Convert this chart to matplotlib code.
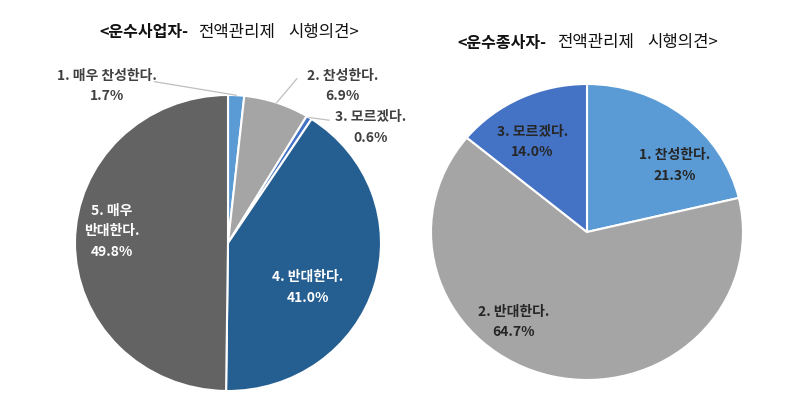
import numpy as np
import matplotlib
matplotlib.use('Agg')
import matplotlib.pyplot as plt

plt.rcParams['font.family'] = ['Noto Sans CJK KR', 'DejaVu Sans']

# 운수사업자
left_labels = ['1. 매우 찬성한다.', '2. 찬성한다.', '3. 모르겠다.', '4. 반대한다.', '5. 매우\n반대한다.']
left_values = [1.7, 6.9, 0.6, 41.0, 49.8]
left_colors = ['#5B9BD5', '#A5A5A5', '#4472C4', '#255E91', '#636363']

# 운수종사자
right_labels = ['1. 찬성한다.', '2. 반대한다.', '3. 모르겠다.']
right_values = [21.3, 64.7, 14.0]
right_colors = ['#5B9BD5', '#A5A5A5', '#4472C4']

W, H = 811, 411
fig = plt.figure(figsize=(W / 100, H / 100), dpi=100)


def px_axes(cx, cy, rx, ry):
    # axes placed so that a radius-1 pie fills an ellipse centred at (cx, cy) pixels
    return fig.add_axes([(cx - rx) / W, (H - cy - ry) / H, 2 * rx / W, 2 * ry / H])


def draw_pie(ax, values, colors):
    wedges, _ = ax.pie(values, colors=colors, startangle=90, counterclock=False,
                       radius=1, wedgeprops=dict(edgecolor='white', linewidth=1.5, clip_on=False))
    ax.set_aspect('auto')
    ax.set_xlim(-1, 1)
    ax.set_ylim(-1, 1)
    ax.axis('off')
    return wedges


def mid_point(w, r=1.0):
    a = np.deg2rad((w.theta1 + w.theta2) / 2)
    return r * np.cos(a), r * np.sin(a)


lbl_kw = dict(ha='center', va='center', fontsize=10, fontweight='bold', linespacing=1.58)

# ---- left pie
axl = px_axes(228, 243, 153, 148)
wl = draw_pie(axl, left_values, left_colors)
left_pos = [(-0.79, 1.06), (0.75, 1.06), (0.93, 0.78), (0.52, -0.30), (-0.76, 0.08)]
left_txtcol = ['#404040', '#404040', '#404040', 'white', 'white']
for lab, v, (x, y), c in zip(left_labels, left_values, left_pos, left_txtcol):
    axl.text(x, y, f'{lab}\n{v:.1f}%', color=c, **lbl_kw)

# leader lines for the small slices
leader_start = [(-0.48, 1.09), (0.45, 1.11), (0.66, 0.83)]
for w, (sx, sy) in zip(wl[:3], leader_start):
    ex, ey = mid_point(w)
    axl.plot([sx, ex], [sy, ey], color='#BFBFBF', lw=0.9, clip_on=False)

# ---- right pie
axr = px_axes(587, 232, 156, 148)
wr = draw_pie(axr, right_values, right_colors)
right_pos = [(0.56, 0.45), (-0.47, -0.61), (-0.35, 0.61)]
for lab, v, (x, y) in zip(right_labels, right_values, right_pos):
    axr.text(x, y, f'{lab}\n{v:.1f}%', color='#262626', **lbl_kw)

# ---- titles (bold prefix + regular rest), pieces placed in pixel positions
ttl_kw = dict(va='center', color='#111111')
for (bold_end, p2, p3, ty, name) in [(188, 198, 288, 32, '운수사업자'),
                                     (546, 557, 647, 43, '운수종사자')]:
    fig.text(bold_end / W, 1 - ty / H, f'<{name}-', ha='right', fontweight='bold', fontsize=11.5, **ttl_kw)
    fig.text(p2 / W, 1 - ty / H, '전액관리제', ha='left', fontsize=12, **ttl_kw)
    fig.text(p3 / W, 1 - ty / H, '시행의견>', ha='left', fontsize=12, **ttl_kw)

fig.savefig('out.png', dpi=100)
